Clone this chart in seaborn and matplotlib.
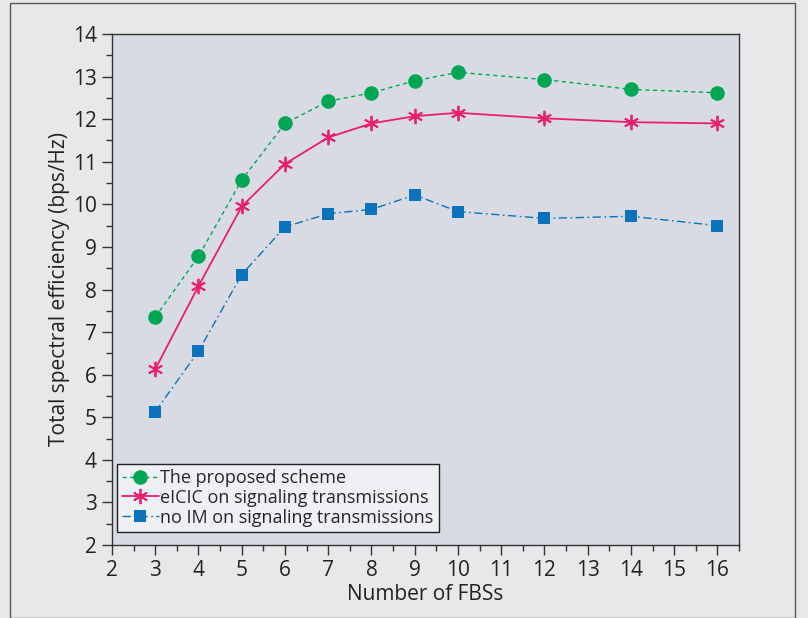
import matplotlib

matplotlib.use("Agg")

import matplotlib.pyplot as plt
import pandas as pd
import seaborn as sns
from matplotlib.patches import Rectangle
from matplotlib.ticker import MultipleLocator

n_fbs = [3, 4, 5, 6, 7, 8, 9, 10, 12, 14, 16]
proposed = [7.35, 8.78, 10.57, 11.9, 12.42, 12.62, 12.9, 13.1, 12.93, 12.7, 12.62]
eicic = [6.13, 8.08, 9.95, 10.95, 11.57, 11.9, 12.07, 12.15, 12.02, 11.93, 11.9]
no_im = [5.13, 6.55, 8.35, 9.47, 9.78, 9.88, 10.22, 9.83, 9.67, 9.72, 9.5]

labels = ["The proposed scheme", "eICIC on signaling transmissions",
          "no IM on signaling transmissions"]

sns.set_theme(style="ticks")
plt.rcParams["font.family"] = ["Open Sans", "DejaVu Sans"]

fig = plt.figure(figsize=(8.08, 6.18), dpi=100, facecolor="#e7e8ea")
fig.patches.append(Rectangle((10 / 808, 0), 785 / 808, 1 - 3 / 618,
                             transform=fig.transFigure, fill=False,
                             edgecolor="#555555", linewidth=1.0))
ax = fig.add_axes([112 / 808, 1 - 545 / 618, (739 - 112) / 808, (545 - 34) / 618])
ax.set_facecolor("#d8dbe3")

df = pd.DataFrame({"x": n_fbs, "a": proposed, "b": eicic, "c": no_im})
sns.lineplot(data=df, x="x", y="a", ax=ax, color="#00a651", linestyle=(0, (3, 2.5)),
             linewidth=1.0, marker="o", markersize=10.5, markeredgewidth=0,
             label=labels[0])
sns.lineplot(data=df, x="x", y="b", ax=ax, color="#ec1c6f", linestyle="-",
             linewidth=1.3, marker=(6, 2, 0), markersize=11, markeredgewidth=1.3,
             markeredgecolor="#ec1c6f", label=labels[1])
sns.lineplot(data=df, x="x", y="c", ax=ax, color="#0b72bb", linestyle=(0, (6, 2.5, 1.2, 2.5)),
             linewidth=1.0, marker="s", markersize=9, markeredgewidth=0,
             label=labels[2])

ax.set_xlim(2, 16.5)
ax.set_ylim(2, 14)
ax.xaxis.set_major_locator(MultipleLocator(1))
ax.xaxis.set_minor_locator(MultipleLocator(0.5))
ax.yaxis.set_major_locator(MultipleLocator(1))
ax.yaxis.set_minor_locator(MultipleLocator(0.5))
ax.tick_params(which="major", length=7, width=1.0, color="#333333",
               labelsize=15, labelcolor="#222222", pad=4)
ax.tick_params(which="minor", length=4, width=1.0, color="#333333")
for s in ax.spines.values():
    s.set_color("#333333")
    s.set_linewidth(1.0)

ax.set_xlabel("Number of FBSs", fontsize=15, color="#222222", labelpad=2)
ax.set_ylabel("Total spectral efficiency (bps/Hz)", fontsize=15, color="#222222",
              labelpad=2)

leg = ax.legend(loc="lower left", bbox_to_anchor=(5 / 627, 13 / 511),
                borderaxespad=0, fontsize=13, frameon=True, fancybox=False,
                handlelength=2.0, handletextpad=0.1,
                borderpad=0.3, labelspacing=0.1)
leg.get_frame().set_edgecolor("#222222")
leg.get_frame().set_facecolor("#eef0f4")
leg.get_frame().set_alpha(1)
leg.get_frame().set_linewidth(1.0)

fig.savefig("out.png", dpi=100, facecolor=fig.get_facecolor())
